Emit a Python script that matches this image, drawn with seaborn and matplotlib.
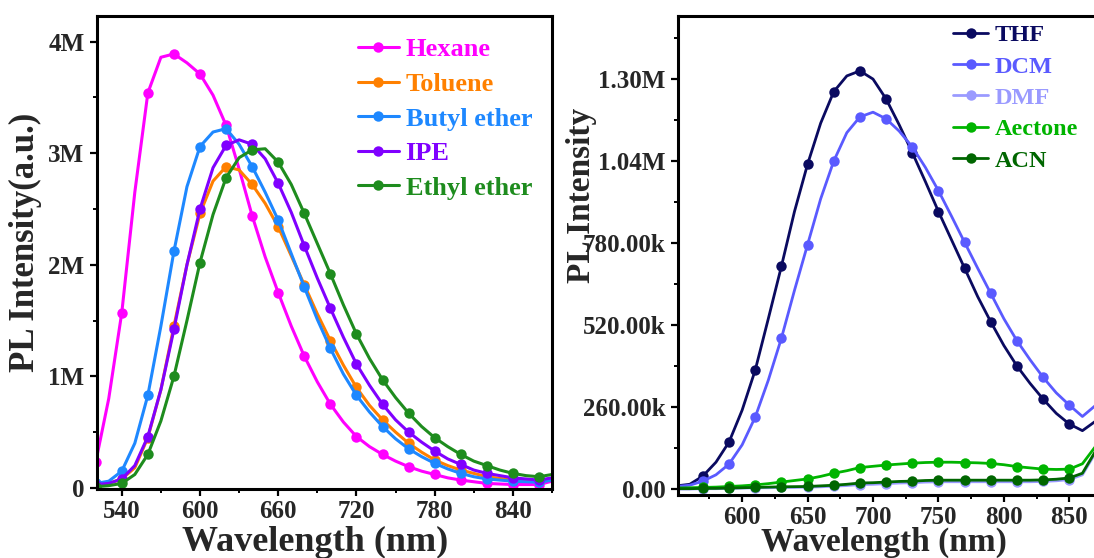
import numpy as np
import pandas as pd
import matplotlib
matplotlib.use("Agg")
import matplotlib.pyplot as plt
from matplotlib.lines import Line2D
from matplotlib.ticker import MultipleLocator
import seaborn as sns

# ---------------- data ----------------
# left panel: low-polarity solvents, PL intensity in units of 1e6 counts
wl_left = list(range(520, 871, 10))
hexane = [0.23, 0.80, 1.57, 2.65, 3.54, 3.86, 3.89, 3.81, 3.71, 3.52,
          3.25, 2.86, 2.44, 2.07, 1.75, 1.45, 1.18, 0.95, 0.75, 0.59,
          0.46, 0.37, 0.30, 0.24, 0.19, 0.15, 0.12, 0.09, 0.07, 0.055,
          0.04, 0.035, 0.03, 0.03, 0.03, 0.06]
toluene = [0.02, 0.04, 0.08, 0.18, 0.45, 0.88, 1.45, 2.00, 2.46, 2.75,
           2.88, 2.85, 2.72, 2.55, 2.34, 2.08, 1.82, 1.56, 1.32, 1.10,
           0.90, 0.74, 0.61, 0.50, 0.40, 0.32, 0.25, 0.20, 0.16, 0.13,
           0.10, 0.085, 0.07, 0.065, 0.06, 0.08]
butyl_ether = [0.04, 0.06, 0.15, 0.40, 0.83, 1.45, 2.12, 2.70, 3.06, 3.19,
               3.22, 3.08, 2.88, 2.65, 2.40, 2.10, 1.80, 1.51, 1.25, 1.02,
               0.83, 0.68, 0.55, 0.44, 0.35, 0.28, 0.22, 0.17, 0.13, 0.10,
               0.08, 0.07, 0.06, 0.055, 0.05, 0.07]
ipe = [0.03, 0.04, 0.08, 0.20, 0.46, 0.88, 1.42, 2.00, 2.50, 2.87,
       3.07, 3.12, 3.08, 2.95, 2.73, 2.47, 2.17, 1.88, 1.61, 1.35,
       1.11, 0.92, 0.75, 0.61, 0.50, 0.41, 0.33, 0.26, 0.21, 0.16,
       0.13, 0.11, 0.09, 0.08, 0.07, 0.09]
ethyl_ether = [0.01, 0.02, 0.04, 0.12, 0.30, 0.60, 1.00, 1.50, 2.02, 2.45,
               2.78, 2.96, 3.03, 3.04, 2.92, 2.72, 2.46, 2.19, 1.92, 1.64,
               1.38, 1.16, 0.97, 0.81, 0.67, 0.55, 0.45, 0.37, 0.30, 0.24,
               0.20, 0.16, 0.13, 0.11, 0.10, 0.12]
left_names = ["Hexane", "Toluene", "Butyl ether", "IPE", "Ethyl ether"]
left_colors = ["#FF00FF", "#FF8000", "#1E88FF", "#8000FF", "#1E8C1E"]
left_yticks = [0, 1, 2, 3, 4]
left_yticklabels = ["0", "1M", "2M", "3M", "4M"]
left_xticks = [540, 600, 660, 720, 780, 840]

# right panel: polar solvents, PL intensity in units of 1e6 counts
wl_right = list(range(550, 871, 10))
thf = [0.010, 0.015, 0.041, 0.085, 0.149, 0.250, 0.377, 0.540, 0.706, 0.880,
       1.030, 1.160, 1.260, 1.310, 1.326, 1.300, 1.237, 1.155, 1.067, 0.975,
       0.880, 0.790, 0.700, 0.610, 0.530, 0.455, 0.390, 0.335, 0.285, 0.240,
       0.206, 0.185, 0.215]
dcm = [0.008, 0.012, 0.025, 0.045, 0.079, 0.140, 0.228, 0.345, 0.478, 0.630,
       0.775, 0.920, 1.040, 1.130, 1.180, 1.195, 1.174, 1.135, 1.085, 1.020,
       0.946, 0.865, 0.782, 0.700, 0.620, 0.540, 0.470, 0.410, 0.354, 0.305,
       0.266, 0.230, 0.265]
dmf = [0.000, 0.000, 0.001, 0.001, 0.002, 0.003, 0.004, 0.004, 0.005, 0.005,
       0.006, 0.007, 0.009, 0.011, 0.014, 0.015, 0.017, 0.019, 0.020, 0.022,
       0.023, 0.023, 0.023, 0.023, 0.023, 0.023, 0.023, 0.023, 0.024, 0.026,
       0.030, 0.045, 0.115]
aectone = [0.003, 0.004, 0.005, 0.006, 0.008, 0.010, 0.013, 0.017, 0.022, 0.027,
           0.032, 0.040, 0.050, 0.058, 0.068, 0.072, 0.076, 0.079, 0.082, 0.084,
           0.085, 0.085, 0.084, 0.083, 0.081, 0.077, 0.071, 0.067, 0.063, 0.062,
           0.063, 0.080, 0.135]
acn = [0.001, 0.001, 0.002, 0.002, 0.003, 0.004, 0.005, 0.006, 0.007, 0.0075,
       0.008, 0.010, 0.012, 0.015, 0.019, 0.020, 0.022, 0.024, 0.025, 0.027,
       0.028, 0.028, 0.028, 0.028, 0.028, 0.028, 0.028, 0.028, 0.029, 0.031,
       0.035, 0.050, 0.120]
right_names = ["THF", "DCM", "DMF", "Aectone", "ACN"]
right_colors = ["#0A0A60", "#5A5AFF", "#9A9AFF", "#00B400", "#006600"]
right_yticks = [0, 0.26, 0.52, 0.78, 1.04, 1.30]
right_yticklabels = ["0.00", "260.00k", "520.00k", "780.00k", "1.04M", "1.30M"]
right_xticks = [600, 650, 700, 750, 800, 850]

# ---------------- style ----------------
sns.set_theme(style="ticks")
plt.rcParams["font.family"] = ["Liberation Serif", "DejaVu Serif"]
plt.rcParams["font.weight"] = "bold"
plt.rcParams["axes.labelweight"] = "bold"

W, H = 1094, 558
fig = plt.figure(figsize=(W / 100, H / 100), dpi=100)


def px_axes(l, t, r, b):
    return fig.add_axes([l / W, 1 - b / H, (r - l) / W, (b - t) / H])


ax1 = px_axes(97, 16, 552, 489)
ax2 = px_axes(678, 16, 1095.5, 495)


def long_frame(wl, names, series):
    rows = []
    for name, vals in zip(names, series):
        for x, v in zip(wl, vals):
            rows.append({"wl": x, "I": v * 1e6, "solvent": name})
    return pd.DataFrame(rows)


df_left = long_frame(wl_left, left_names, [hexane, toluene, butyl_ether, ipe, ethyl_ether])
df_right = long_frame(wl_right, right_names, [thf, dcm, dmf, aectone, acn])

sns.lineplot(data=df_left, x="wl", y="I", hue="solvent", hue_order=left_names,
             palette=left_colors, estimator=None, sort=False, legend=False,
             marker="o", markersize=7.5, markeredgewidth=0,
             markevery=slice(0, 35, 2), linewidth=2.2, ax=ax1)
sns.lineplot(data=df_right, x="wl", y="I", hue="solvent", hue_order=right_names,
             palette=right_colors, estimator=None, sort=False, legend=False,
             marker="o", markersize=7.5, markeredgewidth=0,
             markevery=slice(2, 31, 2), linewidth=2.0, ax=ax2)

tick_fs = 18
for ax in (ax1, ax2):
    for s in ax.spines.values():
        s.set_linewidth(2.2)
        s.set_color("black")
        s.set_visible(True)
    ax.tick_params(which="major", direction="out", length=5, width=1.6,
                   labelsize=tick_fs, pad=4, color="black")
    ax.tick_params(which="minor", direction="out", length=3, width=1.4,
                   color="black")
    ax.tick_params(axis="x", which="major", pad=3)

# left axes
ax1.set_xlim(521, 870)
ax1.set_ylim(-0.01e6, 4.23e6)
ax1.set_xticks(left_xticks)
ax1.set_xticklabels([str(v) for v in left_xticks], fontsize=tick_fs, fontweight="bold")
ax1.xaxis.set_minor_locator(MultipleLocator(30))
ax1.set_yticks([v * 1e6 for v in left_yticks])
ax1.set_yticklabels(left_yticklabels, fontsize=tick_fs, fontweight="bold")
ax1.yaxis.set_minor_locator(MultipleLocator(0.5e6))
ax1.set_xlabel("Wavelength (nm)", fontsize=26, fontweight="bold")
ax1.set_ylabel("PL Intensity(a.u.)", fontsize=25, fontweight="bold")
ax1.xaxis.set_label_coords(0.479, -0.113)
ax1.xaxis.label.set_va("center")
ax1.yaxis.set_label_coords(-0.158, 0.522)
ax1.yaxis.label.set_va("center")

# right axes
ax2.set_xlim(551, 870)
ax2.set_ylim(-0.019e6, 1.5e6)
ax2.set_xticks(right_xticks)
ax2.set_xticklabels([str(v) for v in right_xticks], fontsize=tick_fs, fontweight="bold")
ax2.xaxis.set_minor_locator(MultipleLocator(25))
ax2.set_yticks([v * 1e6 for v in right_yticks])
ax2.set_yticklabels(right_yticklabels, fontsize=tick_fs, fontweight="bold")
ax2.yaxis.set_minor_locator(MultipleLocator(0.13e6))
ax2.set_xlabel("Wavelength (nm)", fontsize=24, fontweight="bold")
ax2.set_ylabel("PL Intensity", fontsize=24, fontweight="bold")
ax2.xaxis.set_label_coords(0.493, -0.099)
ax2.xaxis.label.set_va("center")
ax2.yaxis.set_label_coords(-0.23, 0.626)
ax2.yaxis.label.set_va("center")


def legend_handles(colors, lw):
    return [Line2D([], [], color=c, linewidth=lw, marker="o", markersize=7.5,
                   markeredgewidth=0) for c in colors]


leg1 = ax1.legend(legend_handles(left_colors, 2.2), left_names, loc="upper left",
                  bbox_to_anchor=((358 - 97) / 455, 1 - (38 - 16) / 473),
                  frameon=False, prop={"weight": "bold", "size": 19},
                  labelcolor="linecolor", handlelength=1.55, handletextpad=0.25,
                  labelspacing=0.42, borderaxespad=0, borderpad=0)
leg2 = ax2.legend(legend_handles(right_colors, 2.0), right_names, loc="upper left",
                  bbox_to_anchor=((953 - 678) / 417.5, 1 - (24 - 16) / 479),
                  frameon=False, prop={"weight": "bold", "size": 17.5},
                  labelcolor="linecolor", handlelength=1.45, handletextpad=0.25,
                  labelspacing=0.39, borderaxespad=0, borderpad=0)

fig.savefig("out.png", dpi=100)
